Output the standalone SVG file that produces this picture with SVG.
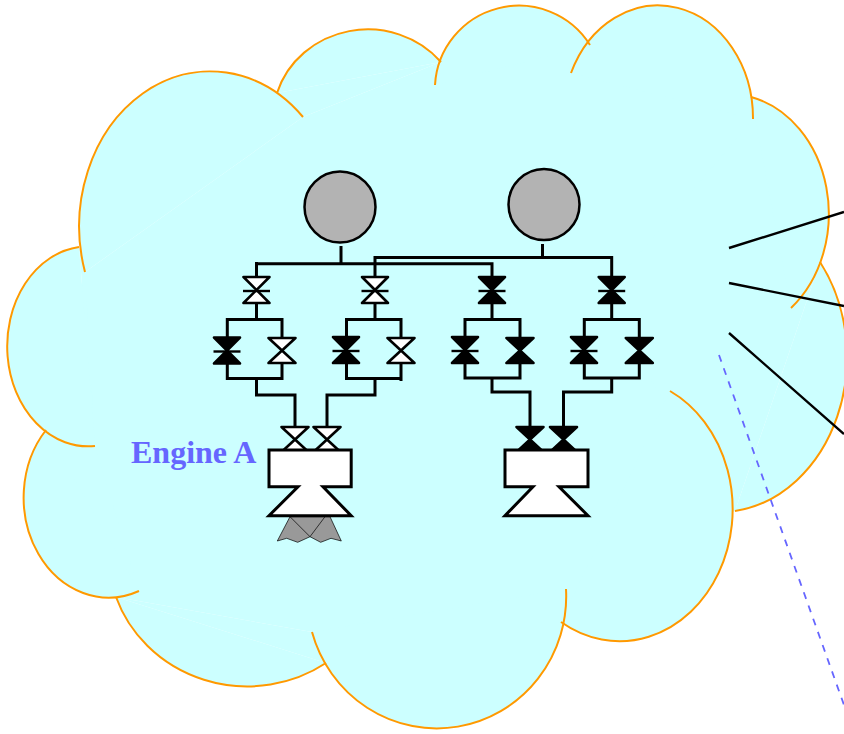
<svg xmlns="http://www.w3.org/2000/svg" xmlns:xlink="http://www.w3.org/1999/xlink" width="844" height="734" viewBox="0 0 844 734">
<style>
.pipe{fill:none;stroke:#000;stroke-width:3;stroke-linejoin:miter}
.lnk{fill:none;stroke:#000;stroke-width:2.4}
.tank{fill:#b3b3b3;stroke:#000;stroke-width:2.5}
.eng{fill:#fff;stroke:#000;stroke-width:3;stroke-linejoin:miter}
.open{fill:#fff;stroke:#000;stroke-width:2.6;stroke-linejoin:round}
.shut{fill:#000;stroke:#000;stroke-width:2.6;stroke-linejoin:round}
.bar{stroke:#000;stroke-width:2.4}
.lobe{fill:#ccffff;stroke:none}
.edge{fill:none;stroke:#ff9900;stroke-width:2}
text{font-family:"Liberation Serif","Times New Roman",serif;font-weight:bold;font-size:32px;fill:#6666ff}
</style>
<defs>
<path id="a1" d="M85,272A131,155 0 0 1 303,117"/>
<path id="a2" d="M277,93A95,90 0 0 1 441,62"/>
<path id="a3" d="M435,85A84,84 0 0 1 590,45"/>
<path id="a4" d="M571,73A95,113 0 0 1 753,119"/>
<path id="a5" d="M751,97A100,120 0 0 1 791,308"/>
<path id="a6" d="M820,262A128,155 0 0 1 735,511"/>
<path id="a7" d="M670,391A113,132 0 1 1 561,622"/>
<path id="a8" d="M566,589A129.5,132 0 0 1 312,632"/>
<path id="a9" d="M326,663A139,133 0 0 1 116,597"/>
<path id="a10" d="M139,591A85,100 0 0 1 46,430"/>
<path id="a11" d="M95,446A81,100 0 0 1 79,247"/>
<g id="vo"><path class="open" d="M-13,-13H13L-13,13H13Z"/><path class="bar" d="M-13.5,1H13.5"/></g>
<g id="vs"><path class="shut" d="M-13,-13H13L-13,13H13Z"/><path class="bar" d="M-13.5,1H13.5"/></g>
<path id="wo" class="open" d="M-13.5,-12.5H13.5L-13.5,12.5H13.5Z"/>
<path id="ws" class="shut" d="M-13.5,-12.5H13.5L-13.5,12.5H13.5Z"/>
</defs>
<g id="cloud">
<path class="lobe" d="M85,272L303,117L441,62L590,45L753,119L791,308L735,511L561,622L312,632L116,597L46,430Z"/>
<path class="lobe" d="M277,93L441,62L303,117Z M751,97L820,262L735,511L600,300L753,119Z M116,597L312,632L326,663Z M79,247L85,272L95,446Z M46,430L95,446L139,591Z"/>
<use class="lobe" href="#a1"/><use class="lobe" href="#a2"/><use class="lobe" href="#a3"/><use class="lobe" href="#a4"/><use class="lobe" href="#a5"/><use class="lobe" href="#a6"/><use class="lobe" href="#a7"/><use class="lobe" href="#a8"/><use class="lobe" href="#a9"/><use class="lobe" href="#a10"/><use class="lobe" href="#a11"/>
<use class="edge" href="#a1"/><use class="edge" href="#a2"/><use class="edge" href="#a3"/><use class="edge" href="#a4"/><use class="edge" href="#a5"/><use class="edge" href="#a6"/><use class="edge" href="#a7"/><use class="edge" href="#a8"/><use class="edge" href="#a9"/><use class="edge" href="#a10"/><use class="edge" href="#a11"/>
</g>
<g id="connectors">
<path class="pipe" d="M341,246V263.7M256.5,263.7H492V277M256.5,262V277M375,277V257.5H611.7V277M542.5,244V257.5"/>
<path class="pipe" d="M256.5,303V319.5M227.3,363V319.5H282V337M227.3,363V378.5H282V363M256.5,378.5V395H295V427"/>
<path class="pipe" d="M375,303V319.5M346.5,337V319.5H401V337M346.5,363V378.5H401V381M401,363V378M375,378.5V395H327V427"/>
<path class="pipe" d="M492,303V319.5M465,337V319.5H520V337M465,363V378H520V363M492,378V392H530V427"/>
<path class="pipe" d="M611.7,303V319.5M584.3,337V319.5H639.3V337M584.3,363V378H639.3V363M611.7,378V392H563.5V427"/>
<path class="lnk" d="M729,248L844,212M729,283L844,306M729,333L844,434"/>
<path d="M719,355L844,705" fill="none" stroke="#6666ff" stroke-width="1.8" stroke-dasharray="7,7"/>
</g>
<g id="tank-1"><circle class="tank" cx="340" cy="207" r="35.5"/></g>
<g id="tank-2"><circle class="tank" cx="544" cy="204.5" r="35.5"/></g>
<g id="v1"><use href="#vo" x="256.5" y="290"/></g>
<g id="v2"><use href="#vo" x="375" y="290"/></g>
<g id="v3"><use href="#vs" x="492" y="290"/></g>
<g id="v4"><use href="#vs" x="611.7" y="290"/></g>
<g id="v5"><use href="#vs" x="227" y="350.5"/></g>
<g id="v6"><use href="#wo" x="282" y="350.5"/></g>
<g id="v7"><use href="#vs" x="346" y="350"/></g>
<g id="v8"><use href="#wo" x="401" y="350.5"/></g>
<g id="v9"><use href="#vs" x="465" y="350"/></g>
<g id="v10"><use href="#ws" x="520" y="350.5"/></g>
<g id="v11"><use href="#vs" x="584" y="350"/></g>
<g id="v12"><use href="#ws" x="639.3" y="350.5"/></g>
<g id="v13"><use href="#wo" x="295" y="439.5"/></g>
<g id="v14"><use href="#wo" x="327" y="439.5"/></g>
<g id="v15"><use href="#ws" x="530" y="439.5"/></g>
<g id="v16"><use href="#ws" x="563.5" y="439.5"/></g>
<g id="flame">
<path d="M290,516.7L277.3,541L286.7,538.3L297.7,542.3L310,536.7L320.7,542.3L331,538.3L341.3,541L330,516.7Z" fill="#999" stroke="#000" stroke-width="0.7"/>
<path d="M290,516.7L310,536.7L325,516.7" fill="none" stroke="#000" stroke-width="0.7"/>
</g>
<g id="engine-a"><path class="eng" d="M269,450H351.2V486.7H323L351.2,515.7H269L298,486.7H269Z"/></g>
<g id="engine-b"><path class="eng" d="M505,450H588V486.7H559L588,515.7H505L533,486.7H505Z"/></g>
<g id="label"><text x="131" y="463">Engine A</text></g>
</svg>
